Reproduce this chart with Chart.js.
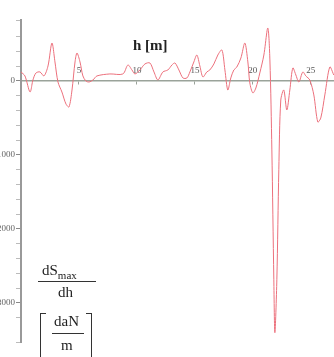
<!DOCTYPE html>
<html>
<head>
<meta charset="utf-8">
<script src="https://cdn.jsdelivr.net/npm/chart.js@4"></script>
<style>
  html, body { margin: 0; padding: 0; background: #fff; overflow: hidden; }
  #wrap { position: relative; width: 334px; height: 357px; overflow: hidden; }
  #box { position: absolute; left: -30px; top: 0; width: 364px; height: 357px; }
  .lbl { position: absolute; font-family: 'Liberation Serif', serif; color: #222; white-space: nowrap; }
  .bar { position: absolute; background: #333; height: 1px; }
</style>
</head>
<body>
<div id="wrap">
  <div id="box"><canvas id="myChart"></canvas></div>
  <div class="lbl" style="left:133px; top:37px; font-size:15px; font-weight:bold;">h [m]</div>
  <div class="lbl" style="left:42px; top:262px; font-size:15px;">dS<sub style="font-size:11px;">max</sub></div>
  <div class="bar" style="left:38px; top:281px; width:58px;"></div>
  <div class="lbl" style="left:58px; top:284px; font-size:15px;">dh</div>
  <div class="lbl" style="left:40px; top:313px; width:5px; height:46px; border:1px solid #333; border-right:none;"></div>
  <div class="lbl" style="left:54px; top:313px; font-size:15px;">daN</div>
  <div class="bar" style="left:52px; top:333px; width:32px;"></div>
  <div class="lbl" style="left:61px; top:337px; font-size:15px;">m</div>
  <div class="lbl" style="left:86px; top:313px; width:5px; height:46px; border:1px solid #333; border-left:none;"></div>
</div>
<script>
'use strict';
// h [m] and dS_max/dh [daN/m]
let hValues = [0, 0.34, 0.78, 1.03, 1.29, 1.64, 1.98, 2.33, 2.67, 2.93, 3.19, 3.53, 3.88, 4.14, 4.40, 4.66, 4.83, 5.09, 5.34, 5.60,
  5.86, 6.21, 6.55, 7.67, 8.79, 9.22, 9.57, 9.83, 10.26, 10.69, 11.12, 11.47, 11.81, 12.24, 12.67, 13.02, 13.28, 13.62, 13.97, 14.31,
  14.57, 14.91, 15.17, 15.43, 15.69, 16.03, 16.29, 16.64, 16.98, 17.33, 17.59, 17.84, 18.10, 18.36, 18.62, 18.97, 19.31, 19.57, 19.74, 20.00,
  20.26, 20.60, 20.95, 21.29, 21.47, 21.64, 21.81, 21.90, 22.07, 22.24, 22.41, 22.67, 22.93, 23.19, 23.45, 23.71, 23.97, 24.31, 24.57, 24.91,
  25.26, 25.60, 25.86, 26.21, 26.64, 26.98];
let slopeValues = [122, 68, -149, 14, 108, 122, 68, 203, 513, 257, -14, -149, -311, -351, -122, 257, 378, 257, 68, 0,
  -14, 14, 68, 95, 95, 216, 149, 95, 149, 230, 243, 122, 14, 122, 149, 216, 243, 149, 41, 41,
  122, 257, 351, 203, 54, 122, 149, 230, 351, 419, 149, -122, 41, 149, 189, 311, 513, 257, -27, -162,
  -95, 108, 351, 716, 284, -932, -2686, -3402, -2686, -1200, -257, -122, -392, -122, 176, 81, -14, 122, 68, 14,
  -189, -554, -500, -189, 189, 81];
let xTicks = [5, 10, 15, 20, 25];
let yLabelStep = 1000;

let points = [];
for (let i = 0; i < hValues.length; i++) {
  points.push({ x: hValues[i], y: slopeValues[i] });
}

let ctx = document.getElementById('myChart').getContext('2d');

let myChartObj = {
  type: 'line',
  data: {
    datasets: [{
      data: points,
      borderColor: 'rgb(236, 112, 124)',
      borderWidth: 1,
      pointRadius: 0,
      tension: 0.3,
      fill: false
    }]
  },
  options: {
    responsive: false,
    animation: false,
    layout: { padding: { top: 20, bottom: 15, right: 0, left: 0 } },
    plugins: { legend: { display: false }, tooltip: { enabled: false } },
    scales: {
      x: {
        type: 'linear',
        min: 0,
        max: 27,
        position: { y: 0 },
        afterBuildTicks: function (scale) {
          scale.ticks = xTicks.map(function (v) { return { value: v }; });
        },
        grid: { drawOnChartArea: false, tickLength: 3, color: '#9aa39a' },
        border: { color: '#9aa39a', width: 1.5 },
        ticks: {
          padding: -19,
          color: '#555',
          font: { family: 'Liberation Serif', size: 9 },
          maxRotation: 0
        }
      },
      y: {
        min: -3527,
        max: 824,
        afterFit: function (scale) { scale.width = 51; },
        grid: {
          drawOnChartArea: false,
          tickLength: 5,
          color: function (c) {
            return (c.tick && c.tick.value % yLabelStep === 0) ? '#888' : '#bbb';
          }
        },
        border: { color: '#999', width: 2 },
        ticks: {
          stepSize: 200,
          padding: 1,
          color: '#666',
          font: { family: 'Liberation Serif', size: 9 },
          callback: function (v) { return (v % yLabelStep === 0) ? String(v) : ''; }
        }
      }
    }
  }
};

let canvas = document.getElementById('myChart');
canvas.width = 364;
canvas.height = 357;
const myChart = new Chart(ctx, myChartObj);
</script>
</body>
</html>
